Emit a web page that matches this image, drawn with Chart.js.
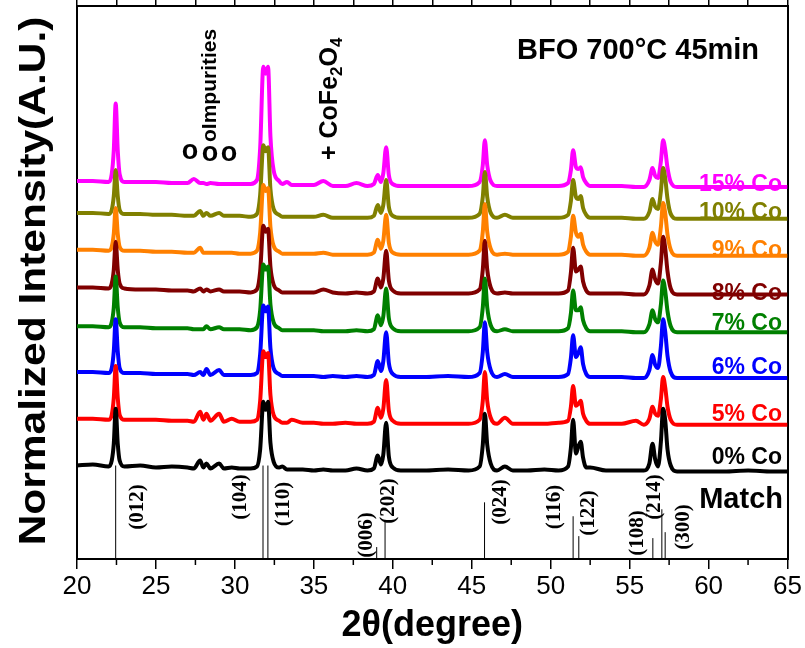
<!DOCTYPE html>
<html><head><meta charset="utf-8">
<script src="https://cdn.jsdelivr.net/npm/chart.js@4.4.1/dist/chart.umd.min.js"></script>
<style>html,body{margin:0;padding:0;background:#fff}</style>
</head><body>
<canvas id="c" width="805" height="648"></canvas>
<script>
// ---------- data ----------
const twoTheta = [20,21,22,22.2,22.33,22.45,22.58,22.7,23,24,
  25,26,27,27.4,27.8,28,28.2,28.45,29,29.3,
  29.8,30.3,31,31.4,31.6,31.8,31.95,32.1,32.25,32.45,
  32.8,33,33.3,33.6,34.3,35,35.6,36.2,37,37.7,
  38.4,38.8,39.05,39.25,39.4,39.58,39.75,40,40.5,42,
  43.5,44.8,45.5,45.7,45.83,45.98,46.2,46.6,47.1,47.6,
  48.5,49.6,50.5,51.1,51.28,51.42,51.6,51.75,51.9,52.05,
  52.25,52.5,53.5,54.5,55.4,55.9,56.25,56.45,56.62,56.8,
  56.98,57.12,57.25,57.4,57.6,58,59.5,61,62.5,64,
  65];

const seriesNames = ['0% Co','5% Co','6% Co','7% Co','8% Co','9% Co','10% Co','15% Co'];
const seriesColors = ['#000000','#FF0000','#0000FF','#008000','#800000','#FF8000','#808000','#FF00FF'];
const seriesOffsets = [94,141,188,234,273,311,348,380];

const co0 = [0,1,-1,5,22,57,22,5,-1,0,
  -2,-1,-2,-3,5,-2,2,-3,2,-3,
  -2,-3,-3,-1,16,64,56,64,23,4,
  -2,-1,-4,-4,-4,-5,-4,-5,-5,-3,
  -5,-3,10,1,11,43,9,-2,-5,-5,
  -4,-5,-1,21,52,21,2,-5,-1,-5,
  -5,-4,-5,-1,18,46,12,19,24,8,
  -2,-2,-5,-5,-5,-5,2,22,6,-1,
  24,57,46,16,0,-6,-6,-6,-5,-6,
  -6];
const co5 = [0,0,-1,4,21,53,21,4,-1,-1,
  -1,-2,-2,-3,7,-1,5,-2,5,-3,
  0,-3,-3,-1,18,68,62,66,24,4,
  -2,-4,-4,-1,-4,-4,-5,-5,-4,-5,
  -5,-3,11,1,10,39,8,-2,-5,-5,
  -5,-5,-1,18,47,18,1,-5,1,-5,
  -5,-5,-4,-2,12,33,13,15,18,5,
  -2,-5,-5,-5,-2,-6,0,12,5,3,
  20,42,32,12,-1,-6,-6,-6,-6,-6,
  -6];
const co6 = [0,0,-1,4,21,53,21,4,-1,-1,
  -2,-2,-2,-3,0,-3,3,-3,2,-3,
  -3,-3,-3,-1,18,67,61,66,24,4,
  -2,-4,-4,-4,-4,-4,-5,-4,-5,-4,
  -5,-3,11,1,11,40,9,-2,-5,-5,
  -4,-5,-1,20,50,20,2,-5,-2,-5,
  -5,-5,-5,-2,14,37,15,19,25,8,
  -2,-5,-5,-5,-6,-6,2,17,7,4,
  26,53,41,16,0,-6,-6,-6,-6,-6,
  -6];
const co7 = [0,0,-1,4,19,50,19,4,-1,-1,
  -2,-2,-2,-3,-3,-3,0,-3,-1,-3,
  -3,-3,-4,-1,16,62,57,60,22,4,
  -2,-4,-4,-4,-4,-4,-5,-5,-5,-4,
  -5,-3,11,1,10,38,8,-2,-5,-5,
  -5,-5,-1,19,48,19,1,-5,-3,-5,
  -5,-5,-5,-2,13,36,16,16,19,6,
  -2,-5,-5,-5,-6,-6,2,16,7,4,
  22,46,36,15,0,-6,-6,-6,-6,-6,
  -6];
const co8 = [0,0,-1,4,18,46,18,4,-1,-2,
  -2,-3,-3,-4,-1,-4,-2,-4,-2,-4,
  -4,-4,-5,-2,16,62,56,59,21,3,
  -3,-5,-5,-5,-5,-5,-2,-5,-6,-5,
  -6,-4,9,0,9,37,7,-3,-6,-6,
  -6,-6,-2,18,47,18,0,-6,-5,-6,
  -6,-6,-6,-3,15,40,16,18,21,6,
  -3,-6,-6,-6,-7,-7,2,18,8,4,
  25,51,40,16,-1,-7,-7,-7,-7,-7,
  -7];
const co9 = [0,0,-1,3,16,42,16,3,-1,-1,
  -2,-2,-3,-3,2,-3,-3,-3,-3,-3,
  -3,-4,-4,-1,17,65,59,62,23,4,
  -2,-4,-4,-4,-4,-4,-3,-5,-5,-5,
  -5,-3,10,1,9,35,7,-3,-5,-5,
  -5,-5,-1,18,46,18,1,-5,-4,-5,
  -5,-5,-5,-2,13,34,17,13,16,5,
  -2,-5,-5,-5,-6,-6,2,17,8,5,
  23,47,37,15,0,-6,-6,-6,-6,-6,
  -6];
const co10 = [0,0,-1,3,17,43,17,3,-1,-1,
  -2,-2,-3,-3,2,-3,0,-3,0,-3,
  -3,-3,-4,-1,18,68,62,66,24,4,
  -2,-4,-4,-4,-4,-4,-2,-5,-5,-5,
  -5,-3,8,0,8,33,6,-3,-5,-5,
  -5,-5,-1,16,41,16,0,-5,-2,-5,
  -5,-5,-5,-2,12,33,16,14,17,5,
  -2,-5,-5,-5,-6,-6,1,14,6,4,
  22,45,35,14,-1,-6,-6,-6,-6,-6,
  -6];
const co15 = [0,0,-1,7,31,78,31,7,-1,-1,
  -1,-2,-2,2,-2,-2,-3,-2,-3,-3,
  -3,-3,-3,1,33,115,108,115,45,11,
  0,-3,-1,-4,-4,-4,0,-5,-5,-2,
  -5,-3,6,-1,8,34,6,-3,-5,-5,
  -5,-5,-1,16,41,16,0,-5,-5,-5,
  -5,-5,-5,-2,11,31,14,12,14,4,
  -2,-5,-5,-5,-6,-6,1,13,5,3,
  20,41,32,13,-1,-6,-6,-6,-6,-6,
  -6];
const seriesValues = [co0, co5, co6, co7, co8, co9, co10, co15];

const matchPeaks   = [22.45, 31.78, 32.09, 38.98, 39.51, 45.81, 51.42, 51.78, 56.47, 57.04, 57.25];
const matchHeights = [94, 94, 94, 12, 39, 57, 43, 23, 21, 50, 27];
const matchLabels  = ['(012)','(104)','(110)','(006)','(202)','(024)','(116)','(122)','(108)','(214)','(300)'];

const minorTicks = [22.5, 27.5, 32.5, 37.5, 42.5, 47.5, 52.5, 57.5, 62.5];

// ---------- styling / layout (not data) ----------
const SANS = '"Liberation Sans", Arial, sans-serif';
const SERIF = '"Liberation Serif", "Times New Roman", serif';
const labelBaselines = [464, 421, 374, 330, 300, 257, 219, 191];
const hklCenters = [[138,507],[241,497],[284,504],[367,535],[389,501],[501,502],[555,507],[589,513],[638,533],[655,497],[684,527]];

const datasets = seriesNames.map((name, k) => ({
  label: name,
  data: twoTheta.map((t, i) => ({x: t, y: seriesOffsets[k] + seriesValues[k][i]})),
  borderColor: seriesColors[k],
  borderWidth: 4,
  pointRadius: 0,
  cubicInterpolationMode: 'monotone',
  fill: false
}));
const stickData = [];
matchPeaks.forEach((p, i) => { stickData.push({x: p, y: 0}, {x: p, y: matchHeights[i]}, {x: p, y: null}); });
datasets.push({label: 'Match', data: stickData, borderColor: '#000', borderWidth: 1, pointRadius: 0, tension: 0, spanGaps: false});

const textPlugin = {
  id: 'texts',
  afterDatasetsDraw(chart) {
    const {ctx, chartArea, scales} = chart;
    const xs = scales.x;
    ctx.save();
    // minor ticks on bottom axis
    ctx.strokeStyle = '#000'; ctx.lineWidth = 1.5;
    minorTicks.forEach(v => {
      const px = xs.getPixelForValue(v);
      ctx.beginPath(); ctx.moveTo(px, chartArea.bottom); ctx.lineTo(px, chartArea.bottom + 6); ctx.stroke();
    });
    // series labels
    ctx.textAlign = 'right'; ctx.textBaseline = 'alphabetic';
    ctx.font = 'bold 23px ' + SANS;
    seriesNames.forEach((n, k) => { ctx.fillStyle = seriesColors[k]; ctx.fillText(n, 782, labelBaselines[k]); });
    ctx.fillStyle = '#000';
    ctx.font = 'bold 29px ' + SANS;
    ctx.fillText('Match', 783, 508);
    // title text
    ctx.textAlign = 'left';
    ctx.fillText('BFO 700°C 45min', 517, 59);
    // hkl labels
    ctx.font = 'bold 21px ' + SERIF;
    ctx.textAlign = 'center'; ctx.textBaseline = 'middle';
    matchLabels.forEach((t, i) => {
      ctx.save(); ctx.translate(hklCenters[i][0], hklCenters[i][1]); ctx.rotate(-Math.PI/2);
      ctx.fillText(t, 0, 0); ctx.restore();
    });
    // impurities
    ctx.textBaseline = 'alphabetic';
    ctx.font = 'bold 27px ' + SANS;
    ctx.textAlign = 'center';
    ctx.fillText('o', 190, 159); ctx.fillText('o', 210, 161); ctx.fillText('o', 229, 161);
    ctx.save(); ctx.translate(216, 142); ctx.rotate(-Math.PI/2);
    ctx.textAlign = 'left'; ctx.font = 'bold 21px ' + SANS;
    ctx.fillText('oImpurities', 0, 0); ctx.restore();
    // CoFe2O4
    ctx.save(); ctx.translate(337, 160); ctx.rotate(-Math.PI/2); ctx.textAlign = 'left';
    let w = 0;
    const parts = [['+ CoFe', 25, 0], ['2', 17, 5], ['O', 25, 0], ['4', 17, 5]];
    parts.forEach(([t, s, dy]) => { ctx.font = 'bold ' + s + 'px ' + SANS; ctx.fillText(t, w, dy); w += ctx.measureText(t).width; });
    ctx.restore();
    // y axis title
    ctx.save(); ctx.translate(35, 281); ctx.rotate(-Math.PI/2); ctx.scale(1.18, 1);
    ctx.font = 'bold 36px ' + SANS; ctx.textAlign = 'center'; ctx.textBaseline = 'middle';
    ctx.fillText('Normalized Intensity(A.U.)', 0, 0);
    ctx.restore();
    ctx.restore();
  }
};

new Chart(document.getElementById('c'), {
  type: 'line',
  data: {datasets},
  plugins: [textPlugin],
  options: {
    responsive: false, animation: false, devicePixelRatio: 1,
    layout: {padding: {left: 69, right: 4, top: 0, bottom: 0}},
    plugins: {legend: {display: false}, tooltip: {enabled: false}},
    scales: {
      x: {type: 'linear', position: 'bottom', min: 20, max: 65,
        ticks: {stepSize: 5, maxTicksLimit: 100, color: '#000', padding: 3, maxRotation: 0, autoSkip: false,
                font: {family: SANS, size: 26, lineHeight: 1.154}},
        grid: {display: true, drawOnChartArea: false, drawTicks: true, tickLength: 10, color: '#000', lineWidth: 1.5},
        border: {display: true, color: '#000', width: 2},
        title: {display: true, text: '2θ(degree)', color: '#000', padding: {top: 0, bottom: 0},
                font: {family: SANS, size: 36, weight: 'bold', lineHeight: 1.194}}},
      x2: {type: 'linear', position: 'top', min: 20, max: 65,
        ticks: {display: false, stepSize: 2.5, maxTicksLimit: 100},
        grid: {drawOnChartArea: false, tickLength: 6, color: '#000', lineWidth: 1.5},
        border: {display: true, color: '#000', width: 2}},
      y: {type: 'linear', position: 'left', min: 0, max: 556,
        ticks: {display: false}, grid: {display: false}, border: {display: true, color: '#000', width: 2}},
      yr: {type: 'linear', position: 'right', min: 0, max: 556,
        ticks: {display: false}, grid: {display: false}, border: {display: true, color: '#000', width: 2}}
    }
  }
});
</script>
</body></html>
